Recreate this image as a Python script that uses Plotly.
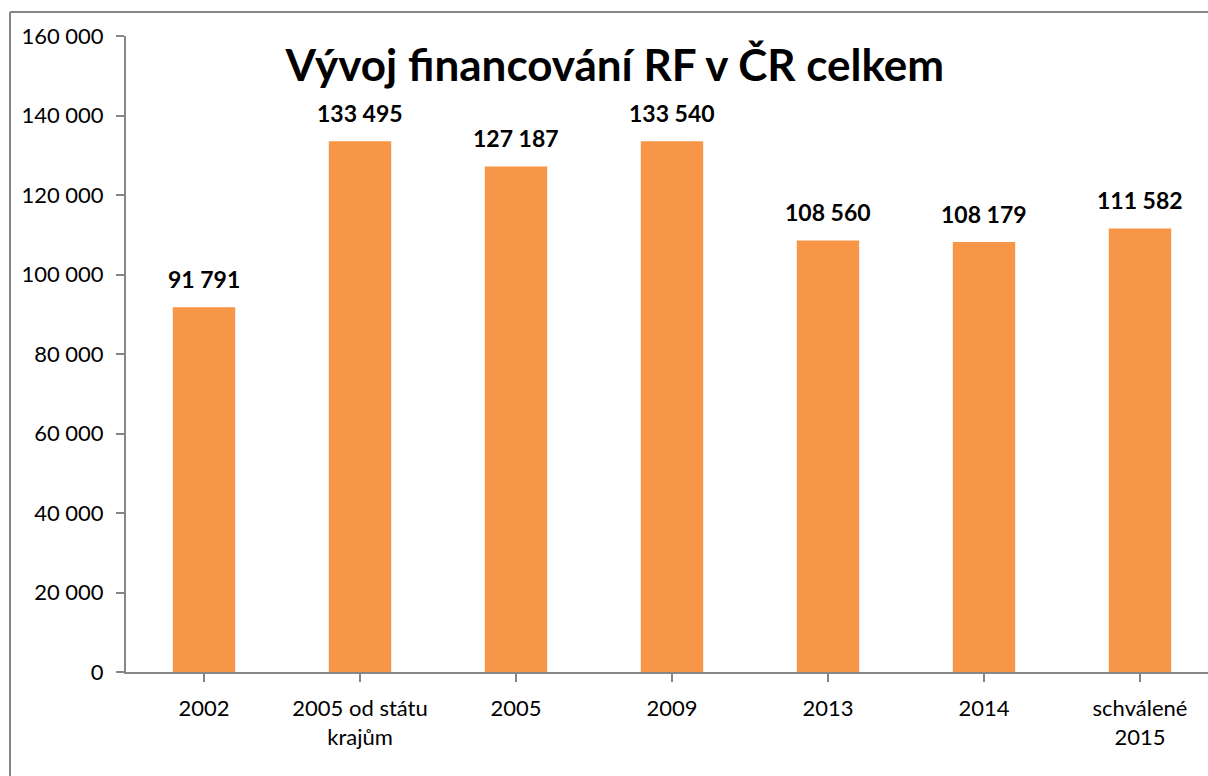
import plotly.graph_objects as go

categories = ["2002", "2005 od státu<br>krajům", "2005", "2009", "2013", "2014", "schválené<br>2015"]
values = [91791, 133495, 127187, 133540, 108560, 108179, 111582]
y_ticks = [0, 20000, 40000, 60000, 80000, 100000, 120000, 140000, 160000]


def fmt(v):
    return f"{v:,}".replace(",", " ")


def plot_funding_chart():
    bar_trace = go.Bar(
        x=list(range(len(categories))),
        y=values,
        width=0.4,
        marker=dict(color="#F79646", line=dict(width=0)),
        hoverinfo="skip"
    )

    fig = go.Figure(data=[bar_trace])

    # Data labels above each bar
    for i, v in enumerate(values):
        fig.add_annotation(
            x=i, y=v, text=f"<b>{fmt(v)}</b>", showarrow=False,
            yanchor="bottom", yshift=12,
            font=dict(family="Lato", size=23, color="black")
        )

    # Outer chart frame (only top and left edges are visible)
    fig.add_shape(
        type="line", xref="paper", yref="paper",
        x0=-0.1072, x1=1.1, y0=1.0377, y1=1.0377,
        line=dict(color="#868686", width=2)
    )
    fig.add_shape(
        type="line", xref="paper", yref="paper",
        x0=-0.1072, x1=-0.1072, y0=-0.3, y1=1.0377,
        line=dict(color="#868686", width=2)
    )

    fig.update_layout(
        title=dict(
            text="<b>Vývoj financování RF v ČR celkem</b>",
            x=0.509, xanchor="center", y=0.916, yanchor="middle",
            font=dict(family="Lato", size=44, color="black")
        ),
        width=1208,
        height=776,
        showlegend=False,
        margin=dict(l=126, r=0, t=36, b=104),
        plot_bgcolor="white",
        paper_bgcolor="white",
        font=dict(family="Lato", size=22, color="black"),
        separators=", "
    )
    fig.update_xaxes(
        tickmode="array",
        tickvals=list(range(len(categories))),
        ticktext=categories,
        range=[-0.5, 6.436],
        showline=True, linecolor="#868686", linewidth=2,
        ticks="outside", ticklen=8, tickcolor="#868686", tickwidth=2,
        tickson="boundaries", ticklabelstandoff=8,
        showgrid=False, zeroline=False
    )
    fig.update_yaxes(
        range=[0, 160000],
        tickvals=y_ticks,
        ticktext=[fmt(t) for t in y_ticks],
        showline=True, linecolor="#868686", linewidth=2,
        ticks="outside", ticklen=8, tickcolor="#868686", tickwidth=2,
        ticklabelstandoff=8,
        showgrid=False, zeroline=False
    )
    return fig


fig = plot_funding_chart()
fig.write_html(
    "out.html",
    config={"displayModeBar": False},
    post_script="document.body.style.margin='0';document.body.style.overflow='hidden';"
)
